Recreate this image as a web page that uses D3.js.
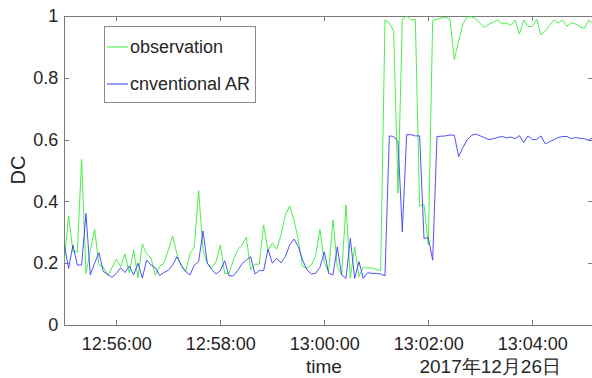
<!DOCTYPE html>
<html><head><meta charset="utf-8">
<script src="https://cdn.jsdelivr.net/npm/d3@7"></script>
<style>
html,body{margin:0;padding:0;background:#fff;}
svg{display:block;}
text{font-family:"Liberation Sans",Arial,sans-serif;fill:#262626;}
</style></head>
<body><svg id="c" width="592" height="378"></svg>
<script>
// ---- data ----
const startTime = "2017-12-26T12:55:00";
const stepSeconds = 5;
const observation = [
0.21,0.353,0.237,0.237,0.536,0.167,0.24,0.31,0.194,0.188,
0.159,0.185,0.213,0.189,0.23,0.168,0.243,0.152,0.262,0.23,
0.217,0.162,0.19,0.2,0.243,0.288,0.23,0.19,0.172,0.231,
0.252,0.435,0.243,0.2,0.185,0.205,0.259,0.167,0.167,0.21,
0.243,0.259,0.284,0.178,0.197,0.197,0.324,0.243,0.265,0.245,
0.291,0.356,0.385,0.34,0.275,0.19,0.183,0.194,0.223,0.31,
0.2,0.173,0.34,0.19,0.162,0.388,0.151,0.253,0.157,0.187,
0.184,0.185,0.18,0.176,0.987,0.978,0.952,0.427,0.99,1.0,
0.987,0.989,0.385,0.39,0.259,0.985,0.99,0.993,0.996,0.99,
0.858,0.92,0.975,0.997,0.997,0.99,0.975,0.963,0.974,0.98,
0.987,0.974,0.978,0.97,0.987,0.942,0.987,0.966,0.966,0.989,
0.939,0.952,0.97,0.987,0.978,0.987,0.967,0.978,0.974,0.965,
0.96,0.987,0.976];
const conventionalAR = [
0.259,0.183,0.259,0.194,0.194,0.361,0.162,0.2,0.234,0.173,
0.165,0.154,0.167,0.185,0.17,0.191,0.162,0.2,0.152,0.21,
0.194,0.185,0.16,0.17,0.177,0.194,0.221,0.194,0.173,0.162,
0.194,0.205,0.304,0.2,0.18,0.165,0.176,0.208,0.159,0.159,
0.176,0.198,0.21,0.221,0.165,0.176,0.176,0.245,0.2,0.216,
0.201,0.221,0.259,0.278,0.254,0.21,0.178,0.165,0.167,0.187,
0.237,0.167,0.162,0.253,0.162,0.151,0.28,0.151,0.205,0.151,
0.169,0.167,0.167,0.165,0.159,0.612,0.61,0.594,0.302,0.616,
0.616,0.612,0.612,0.28,0.283,0.21,0.61,0.611,0.612,0.615,
0.614,0.545,0.575,0.6,0.614,0.618,0.612,0.606,0.6,0.603,
0.607,0.61,0.606,0.608,0.603,0.613,0.59,0.612,0.6,0.6,
0.612,0.586,0.593,0.6,0.607,0.61,0.61,0.603,0.607,0.604,
0.603,0.598,0.607];
const xTickTimes = ["12:56:00","12:58:00","13:00:00","13:02:00","13:04:00"];
const yTicks = [0,0.2,0.4,0.6,0.8,1];
const seriesNames = ["observation","cnventional AR"];
const dateLabel = "2017年12月26日";
const xLabel = "time", yLabel = "DC";

// ---- layout ----
const svg = d3.select("#c");
const L = 64.3, R = 593, T = 16, B = 325;
const t0 = new Date(startTime);
const times = observation.map((_, i) => new Date(t0.getTime() + i * stepSeconds * 1000));
const x = d3.scaleTime().domain([times[0], times[times.length - 1]]).range([L, R]);
const y = d3.scaleLinear().domain([0, 1]).range([B, T]);
const parseT = d3.timeParse("%Y-%m-%d %H:%M:%S");
const xt = xTickTimes.map(s => parseT("2017-12-26 " + s));

svg.append("rect").attr("width", 592).attr("height", 378).attr("fill", "#fff");
svg.append("defs").append("clipPath").attr("id", "clip")
  .append("rect").attr("x", L).attr("y", T).attr("width", R - L).attr("height", B - T);

const axisColor = "#7a7a7a";
const tl = 5;
svg.append("rect").attr("x", L).attr("y", T).attr("width", R - L).attr("height", B - T)
  .attr("fill", "none").attr("stroke", axisColor).attr("stroke-width", 1).attr("shape-rendering", "crispEdges");

const xAxisB = d3.axisBottom(x).tickValues(xt).tickFormat(d3.timeFormat("%H:%M:%S")).tickSizeInner(-tl).tickSizeOuter(0);
const gxb = svg.append("g").attr("transform", `translate(0,${B})`).call(xAxisB);
const xAxisT = d3.axisTop(x).tickValues(xt).tickFormat("").tickSizeInner(-tl).tickSizeOuter(0);
const gxt = svg.append("g").attr("transform", `translate(0,${T})`).call(xAxisT);
const yAxisL = d3.axisLeft(y).tickValues(yTicks).tickFormat(d => d3.format("")(+d.toFixed(1))).tickSizeInner(-tl).tickSizeOuter(0).tickPadding(6);
const gyl = svg.append("g").attr("transform", `translate(${L},0)`).call(yAxisL);
const yAxisR = d3.axisRight(y).tickValues(yTicks).tickFormat("").tickSizeInner(-tl).tickSizeOuter(0);
const gyr = svg.append("g").attr("transform", `translate(${R},0)`).call(yAxisR);
[gxb, gxt, gyl, gyr].forEach(g => {
  g.select(".domain").remove();
  g.selectAll(".tick line").attr("stroke", axisColor).attr("shape-rendering", "crispEdges");
  g.selectAll("text").attr("font-size", 18).attr("fill", "#262626")
    .attr("font-family", "'Liberation Sans', Arial, sans-serif");
});
gxb.selectAll("text").attr("dy", "0.35em").attr("y", 19);

// lines
const line = d3.line().x((d, i) => x(times[i])).y(d => y(d));
const plot = svg.append("g").attr("clip-path", "url(#clip)");
const colors = ["#35ee35", "#3d3dff"];
plot.append("path").datum(observation).attr("d", line).attr("fill", "none").attr("stroke", colors[0]).attr("stroke-width", 0.9);
plot.append("path").datum(conventionalAR).attr("d", line).attr("fill", "none").attr("stroke", colors[1]).attr("stroke-width", 0.9);

// labels
svg.append("text").attr("x", 324).attr("y", 373).attr("text-anchor", "middle").attr("font-size", 19).text(xLabel);
svg.append("text").attr("x", 561).attr("y", 373).attr("text-anchor", "end").attr("font-size", 19)
  .attr("font-family", "'Noto Sans CJK JP', 'Liberation Sans', sans-serif").text(dateLabel);
svg.append("text").attr("transform", "translate(25,170) rotate(-90)").attr("text-anchor", "middle").attr("font-size", 20).text(yLabel);

// legend
const lg = svg.append("g");
lg.append("rect").attr("x", 104.5).attr("y", 26.5).attr("width", 151).attr("height", 76)
  .attr("fill", "#fff").attr("stroke", "#8a8a8a").attr("stroke-width", 1);
seriesNames.forEach((n, i) => {
  const yy = 47 + i * 37;
  lg.append("line").attr("x1", 107).attr("x2", 128).attr("y1", yy).attr("y2", yy)
    .attr("stroke", colors[i]).attr("stroke-width", 1);
  lg.append("text").attr("x", 130).attr("y", yy).attr("dy", "0.35em").attr("font-size", 18).text(n);
});
</script></body></html>
